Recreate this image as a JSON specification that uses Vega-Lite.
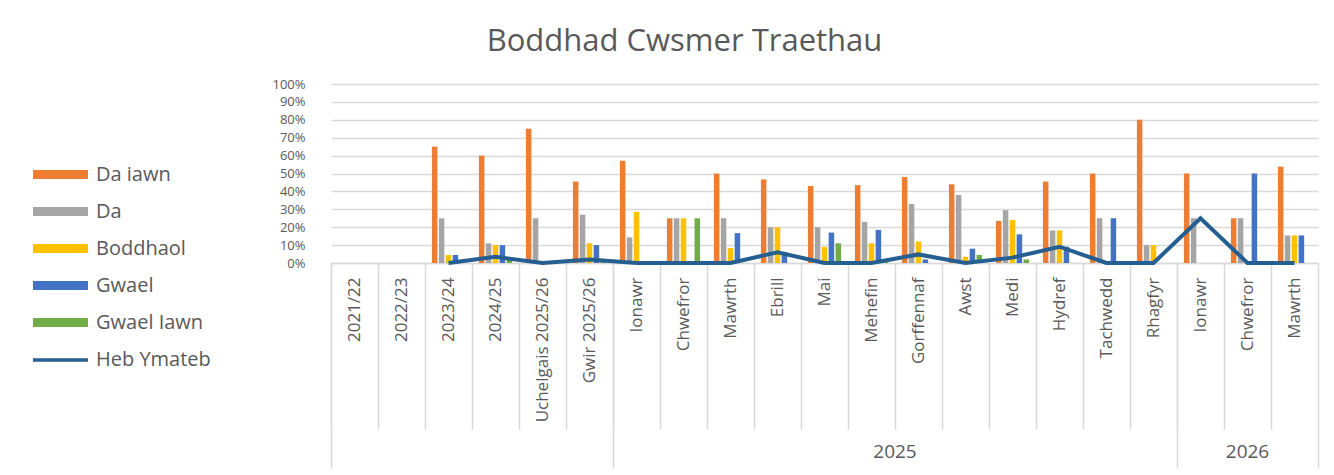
{
  "$schema": "https://vega.github.io/schema/vega-lite/v6.json",
  "width": 987,
  "height": 179,
  "autosize": {"type": "none"},
  "padding": {"left": 331, "top": 84, "right": 16, "bottom": 212},
  "background": "#ffffff",
  "config": {
    "view": {"stroke": null},
    "font": "Open Sans"
  },
  "title": {
    "text": "Boddhad Cwsmer Traethau",
    "font": "Open Sans",
    "fontSize": 31,
    "fontWeight": "normal",
    "color": "#595959",
    "anchor": "middle",
    "frame": "group",
    "baseline": "alphabetic",
    "offset": -4,
    "dx": -140
  },
  "datasets": {
    "bars": [
      {"cat": "2023/24", "series": "Da iawn", "value": 0.65},
      {"cat": "2023/24", "series": "Da", "value": 0.25},
      {"cat": "2023/24", "series": "Boddhaol", "value": 0.045},
      {"cat": "2023/24", "series": "Gwael", "value": 0.045},
      {"cat": "2023/24", "series": "Gwael Iawn", "value": 0},
      {"cat": "2024/25", "series": "Da iawn", "value": 0.60},
      {"cat": "2024/25", "series": "Da", "value": 0.11},
      {"cat": "2024/25", "series": "Boddhaol", "value": 0.10},
      {"cat": "2024/25", "series": "Gwael", "value": 0.10},
      {"cat": "2024/25", "series": "Gwael Iawn", "value": 0.03},
      {"cat": "Uchelgais 2025/26", "series": "Da iawn", "value": 0.75},
      {"cat": "Uchelgais 2025/26", "series": "Da", "value": 0.25},
      {"cat": "Uchelgais 2025/26", "series": "Boddhaol", "value": 0},
      {"cat": "Uchelgais 2025/26", "series": "Gwael", "value": 0},
      {"cat": "Uchelgais 2025/26", "series": "Gwael Iawn", "value": 0},
      {"cat": "Gwir 2025/26", "series": "Da iawn", "value": 0.455},
      {"cat": "Gwir 2025/26", "series": "Da", "value": 0.27},
      {"cat": "Gwir 2025/26", "series": "Boddhaol", "value": 0.11},
      {"cat": "Gwir 2025/26", "series": "Gwael", "value": 0.10},
      {"cat": "Gwir 2025/26", "series": "Gwael Iawn", "value": 0.02},
      {"cat": "Ionawr|2025", "series": "Da iawn", "value": 0.571},
      {"cat": "Ionawr|2025", "series": "Da", "value": 0.143},
      {"cat": "Ionawr|2025", "series": "Boddhaol", "value": 0.286},
      {"cat": "Ionawr|2025", "series": "Gwael", "value": 0},
      {"cat": "Ionawr|2025", "series": "Gwael Iawn", "value": 0},
      {"cat": "Chwefror|2025", "series": "Da iawn", "value": 0.25},
      {"cat": "Chwefror|2025", "series": "Da", "value": 0.25},
      {"cat": "Chwefror|2025", "series": "Boddhaol", "value": 0.25},
      {"cat": "Chwefror|2025", "series": "Gwael", "value": 0},
      {"cat": "Chwefror|2025", "series": "Gwael Iawn", "value": 0.25},
      {"cat": "Mawrth|2025", "series": "Da iawn", "value": 0.50},
      {"cat": "Mawrth|2025", "series": "Da", "value": 0.25},
      {"cat": "Mawrth|2025", "series": "Boddhaol", "value": 0.083},
      {"cat": "Mawrth|2025", "series": "Gwael", "value": 0.167},
      {"cat": "Mawrth|2025", "series": "Gwael Iawn", "value": 0},
      {"cat": "Ebrill|2025", "series": "Da iawn", "value": 0.467},
      {"cat": "Ebrill|2025", "series": "Da", "value": 0.20},
      {"cat": "Ebrill|2025", "series": "Boddhaol", "value": 0.20},
      {"cat": "Ebrill|2025", "series": "Gwael", "value": 0.06},
      {"cat": "Ebrill|2025", "series": "Gwael Iawn", "value": 0},
      {"cat": "Mai|2025", "series": "Da iawn", "value": 0.43},
      {"cat": "Mai|2025", "series": "Da", "value": 0.20},
      {"cat": "Mai|2025", "series": "Boddhaol", "value": 0.09},
      {"cat": "Mai|2025", "series": "Gwael", "value": 0.17},
      {"cat": "Mai|2025", "series": "Gwael Iawn", "value": 0.11},
      {"cat": "Mehefin|2025", "series": "Da iawn", "value": 0.435},
      {"cat": "Mehefin|2025", "series": "Da", "value": 0.23},
      {"cat": "Mehefin|2025", "series": "Boddhaol", "value": 0.11},
      {"cat": "Mehefin|2025", "series": "Gwael", "value": 0.185},
      {"cat": "Mehefin|2025", "series": "Gwael Iawn", "value": 0.02},
      {"cat": "Gorffennaf|2025", "series": "Da iawn", "value": 0.48},
      {"cat": "Gorffennaf|2025", "series": "Da", "value": 0.33},
      {"cat": "Gorffennaf|2025", "series": "Boddhaol", "value": 0.12},
      {"cat": "Gorffennaf|2025", "series": "Gwael", "value": 0.02},
      {"cat": "Gorffennaf|2025", "series": "Gwael Iawn", "value": 0},
      {"cat": "Awst|2025", "series": "Da iawn", "value": 0.44},
      {"cat": "Awst|2025", "series": "Da", "value": 0.38},
      {"cat": "Awst|2025", "series": "Boddhaol", "value": 0.035},
      {"cat": "Awst|2025", "series": "Gwael", "value": 0.08},
      {"cat": "Awst|2025", "series": "Gwael Iawn", "value": 0.045},
      {"cat": "Medi|2025", "series": "Da iawn", "value": 0.235},
      {"cat": "Medi|2025", "series": "Da", "value": 0.295},
      {"cat": "Medi|2025", "series": "Boddhaol", "value": 0.24},
      {"cat": "Medi|2025", "series": "Gwael", "value": 0.16},
      {"cat": "Medi|2025", "series": "Gwael Iawn", "value": 0.02},
      {"cat": "Hydref|2025", "series": "Da iawn", "value": 0.455},
      {"cat": "Hydref|2025", "series": "Da", "value": 0.182},
      {"cat": "Hydref|2025", "series": "Boddhaol", "value": 0.182},
      {"cat": "Hydref|2025", "series": "Gwael", "value": 0.091},
      {"cat": "Hydref|2025", "series": "Gwael Iawn", "value": 0},
      {"cat": "Tachwedd|2025", "series": "Da iawn", "value": 0.50},
      {"cat": "Tachwedd|2025", "series": "Da", "value": 0.25},
      {"cat": "Tachwedd|2025", "series": "Boddhaol", "value": 0},
      {"cat": "Tachwedd|2025", "series": "Gwael", "value": 0.25},
      {"cat": "Tachwedd|2025", "series": "Gwael Iawn", "value": 0},
      {"cat": "Rhagfyr|2025", "series": "Da iawn", "value": 0.80},
      {"cat": "Rhagfyr|2025", "series": "Da", "value": 0.10},
      {"cat": "Rhagfyr|2025", "series": "Boddhaol", "value": 0.10},
      {"cat": "Rhagfyr|2025", "series": "Gwael", "value": 0},
      {"cat": "Rhagfyr|2025", "series": "Gwael Iawn", "value": 0},
      {"cat": "Ionawr|2026", "series": "Da iawn", "value": 0.50},
      {"cat": "Ionawr|2026", "series": "Da", "value": 0.25},
      {"cat": "Ionawr|2026", "series": "Boddhaol", "value": 0},
      {"cat": "Ionawr|2026", "series": "Gwael", "value": 0},
      {"cat": "Ionawr|2026", "series": "Gwael Iawn", "value": 0},
      {"cat": "Chwefror|2026", "series": "Da iawn", "value": 0.25},
      {"cat": "Chwefror|2026", "series": "Da", "value": 0.25},
      {"cat": "Chwefror|2026", "series": "Boddhaol", "value": 0},
      {"cat": "Chwefror|2026", "series": "Gwael", "value": 0.50},
      {"cat": "Chwefror|2026", "series": "Gwael Iawn", "value": 0},
      {"cat": "Mawrth|2026", "series": "Da iawn", "value": 0.538},
      {"cat": "Mawrth|2026", "series": "Da", "value": 0.154},
      {"cat": "Mawrth|2026", "series": "Boddhaol", "value": 0.154},
      {"cat": "Mawrth|2026", "series": "Gwael", "value": 0.154},
      {"cat": "Mawrth|2026", "series": "Gwael Iawn", "value": 0}
    ],
    "line": [
      {"cat": "2023/24", "value": 0},
      {"cat": "2024/25", "value": 0.035},
      {"cat": "Uchelgais 2025/26", "value": 0},
      {"cat": "Gwir 2025/26", "value": 0.02},
      {"cat": "Ionawr|2025", "value": 0},
      {"cat": "Chwefror|2025", "value": 0},
      {"cat": "Mawrth|2025", "value": 0},
      {"cat": "Ebrill|2025", "value": 0.06},
      {"cat": "Mai|2025", "value": 0},
      {"cat": "Mehefin|2025", "value": 0},
      {"cat": "Gorffennaf|2025", "value": 0.048},
      {"cat": "Awst|2025", "value": 0},
      {"cat": "Medi|2025", "value": 0.03},
      {"cat": "Hydref|2025", "value": 0.091},
      {"cat": "Tachwedd|2025", "value": 0},
      {"cat": "Rhagfyr|2025", "value": 0},
      {"cat": "Ionawr|2026", "value": 0.25},
      {"cat": "Chwefror|2026", "value": 0},
      {"cat": "Mawrth|2026", "value": 0}
    ],
    "years": [
      {"year": "2025", "cat": "Gorffennaf|2025"},
      {"year": "2026", "cat": "Chwefror|2026"}
    ]
  },
  "resolve": {"axis": {"x": "independent"}},
  "layer": [
    {
      "data": {"name": "bars"},
      "mark": {"type": "bar"},
      "encoding": {
        "x": {
          "field": "cat",
          "type": "nominal",
          "sort": null,
          "scale": {
            "domain": ["2021/22","2022/23","2023/24","2024/25","Uchelgais 2025/26","Gwir 2025/26","Ionawr|2025","Chwefror|2025","Mawrth|2025","Ebrill|2025","Mai|2025","Mehefin|2025","Gorffennaf|2025","Awst|2025","Medi|2025","Hydref|2025","Tachwedd|2025","Rhagfyr|2025","Ionawr|2026","Chwefror|2026","Mawrth|2026"],
            "paddingInner": 0,
            "paddingOuter": 0
          },
          "axis": {
            "orient": "bottom",
            "title": null,
            "bandPosition": 0,
            "domainColor": "#D9D9D9",
            "domainWidth": 1.5,
            "tickColor": "#D9D9D9",
            "tickWidth": 1.5,
            "tickSize": 166,
            "labelAngle": 270,
            "labelPadding": -152,
            "labelFont": "Open Sans",
            "labelFontSize": 17,
            "labelColor": "#595959",
            "labelOverlap": false,
            "labelBound": false,
            "labelExpr": "split(datum.label, '|')[0]"
          }
        },
        "xOffset": {
          "field": "series",
          "type": "nominal",
          "sort": ["Da iawn","Da","Boddhaol","Gwael","Gwael Iawn"],
          "scale": {"domain": ["Da iawn","Da","Boddhaol","Gwael","Gwael Iawn"], "paddingInner": 0.2, "paddingOuter": 1.8}
        },
        "y": {
          "field": "value",
          "type": "quantitative",
          "scale": {"domain": [0, 1], "nice": false},
          "axis": {"title": null, "format": "%", "values": [0,0.1,0.2,0.3,0.4,0.5,0.6,0.7,0.8,0.9,1], "domain": false, "ticks": false, "grid": true, "gridColor": "#D9D9D9", "gridWidth": 1.5, "labelPadding": 26, "labelFont": "Open Sans", "labelFontSize": 13, "labelColor": "#595959", "labelOverlap": false, "labelBound": false}
        },
        "color": {
          "field": "series",
          "type": "nominal",
          "scale": {
            "domain": ["Da iawn","Da","Boddhaol","Gwael","Gwael Iawn"],
            "range": ["#ED7D31","#A5A5A5","#FFC000","#4472C4","#70AD47"]
          },
          "legend": {
            "orient": "none",
            "legendX": -280.5,
            "legendY": 80.5,
            "title": null,
            "padding": 0,
            "symbolType": "M-5,-0.82H5V0.82H-5Z",
            "symbolSize": 121,
            "symbolStrokeWidth": 0,
            "labelOffset": 25.5,
            "rowPadding": 17,
            "labelFont": "Open Sans",
            "labelFontSize": 20,
            "labelColor": "#595959",
            "labelLimit": 300
          }
        }
      }
    },
    {
      "data": {"name": "line"},
      "mark": {"type": "line", "strokeWidth": 4, "strokeJoin": "miter"},
      "encoding": {
        "x": {"field": "cat", "type": "nominal", "sort": null, "axis": null},
        "y": {
          "field": "value", "type": "quantitative", "scale": {"domain": [0, 1], "nice": false},
          "axis": {"title": null, "format": "%", "values": [0,0.1,0.2,0.3,0.4,0.5,0.6,0.7,0.8,0.9,1], "domain": false, "ticks": false, "grid": true, "gridColor": "#D9D9D9", "gridWidth": 1.5, "labelPadding": 26, "labelFont": "Open Sans", "labelFontSize": 13, "labelColor": "#595959", "labelOverlap": false, "labelBound": false}
        },
        "stroke": {
          "datum": "Heb Ymateb",
          "type": "nominal",
          "scale": {"domain": ["Heb Ymateb"], "range": ["#255E91"]},
          "legend": {
            "orient": "none",
            "legendX": -280.5,
            "legendY": 266,
            "title": null,
            "padding": 0,
            "symbolType": "M-5,0H5",
            "symbolSize": 121,
            "symbolStrokeWidth": 3.5,
            "labelOffset": 25.5,
            "labelFont": "Open Sans",
            "labelFontSize": 20,
            "labelColor": "#595959",
            "labelLimit": 300
          }
        }
      }
    },
    {
      "data": {"name": "years"},
      "transform": [{"filter": "datum.year == '2025'"}],
      "mark": {"type": "text", "font": "Open Sans", "fontSize": 19, "color": "#595959", "align": "center", "baseline": "middle"},
      "encoding": {
        "x": {
          "field": "cat", "type": "nominal", "sort": null, "bandPosition": 0,
          "axis": {
            "orient": "bottom",
            "title": null,
            "values": ["2021/22", "Ionawr|2025", "Ionawr|2026"],
            "bandPosition": 0,
            "domain": false,
            "labels": false,
            "grid": false,
            "tickColor": "#D9D9D9",
            "tickWidth": 1.5,
            "tickSize": 205
          }
        },
        "y": {
          "datum": -1.056, "type": "quantitative", "scale": {"domain": [0, 1], "nice": false},
          "axis": {"title": null, "format": "%", "values": [0,0.1,0.2,0.3,0.4,0.5,0.6,0.7,0.8,0.9,1], "domain": false, "ticks": false, "grid": true, "gridColor": "#D9D9D9", "gridWidth": 1.5, "labelPadding": 26, "labelFont": "Open Sans", "labelFontSize": 13, "labelColor": "#595959", "labelOverlap": false, "labelBound": false}
        },
        "text": {"field": "year"}
      }
    },
    {
      "data": {"name": "years"},
      "transform": [{"filter": "datum.year == '2026'"}],
      "mark": {"type": "text", "font": "Open Sans", "fontSize": 19, "color": "#595959", "align": "center", "baseline": "middle"},
      "encoding": {
        "x": {
          "field": "cat", "type": "nominal", "sort": null,
          "axis": {
            "orient": "bottom",
            "title": null,
            "values": ["Mawrth|2026"],
            "bandPosition": 1,
            "domain": false,
            "labels": false,
            "grid": false,
            "tickColor": "#D9D9D9",
            "tickWidth": 1.5,
            "tickSize": 205
          }
        },
        "y": {
          "datum": -1.056, "type": "quantitative", "scale": {"domain": [0, 1], "nice": false},
          "axis": {"title": null, "format": "%", "values": [0,0.1,0.2,0.3,0.4,0.5,0.6,0.7,0.8,0.9,1], "domain": false, "ticks": false, "grid": true, "gridColor": "#D9D9D9", "gridWidth": 1.5, "labelPadding": 26, "labelFont": "Open Sans", "labelFontSize": 13, "labelColor": "#595959", "labelOverlap": false, "labelBound": false}
        },
        "text": {"field": "year"}
      }
    }
  ]
}
